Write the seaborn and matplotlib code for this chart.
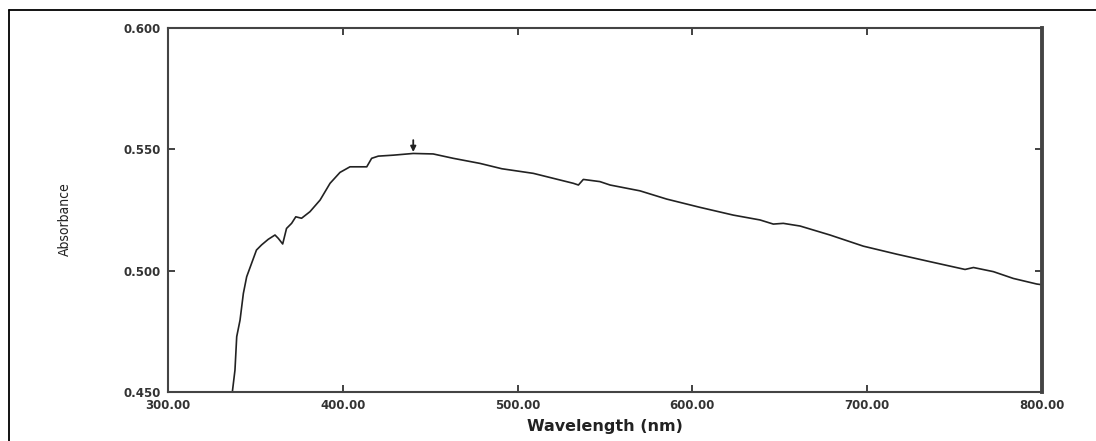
import pandas as pd
import matplotlib.pyplot as plt
import seaborn as sns
from matplotlib.lines import Line2D

# UV-Vis 흡광 스펙트럼
wavelength = [336.8, 338.3, 339.3, 341.2, 343.1, 345.0, 347.8, 350.6, 353.5, 357.3,
              361.2, 363.1, 365.6, 367.8, 370.7, 373.1, 376.4, 381.2, 387.0, 392.7,
              398.4, 404.1, 413.7, 416.5, 420.3, 428.9, 440.3, 451.7, 463.2, 478.5,
              491.0, 509.0, 531.9, 534.8, 537.6, 547.1, 552.9, 570.0, 585.3, 604.3,
              623.4, 638.7, 646.3, 652.0, 661.6, 678.7, 697.8, 716.9, 736.0, 756.0,
              760.8, 772.2, 783.6, 797.0, 800.0]
absorbance = [0.4500, 0.4590, 0.4728, 0.4796, 0.4906, 0.4975, 0.5030, 0.5085, 0.5106, 0.5129,
              0.5147, 0.5133, 0.5110, 0.5174, 0.5195, 0.5222, 0.5216, 0.5243, 0.5291, 0.5360,
              0.5405, 0.5428, 0.5428, 0.5463, 0.5472, 0.5476, 0.5483, 0.5481, 0.5463, 0.5442,
              0.5420, 0.5401, 0.5360, 0.5353, 0.5376, 0.5367, 0.5353, 0.5329, 0.5295, 0.5261,
              0.5229, 0.5209, 0.5192, 0.5195, 0.5184, 0.5147, 0.5101, 0.5068, 0.5037, 0.5005,
              0.5013, 0.4996, 0.4968, 0.4945, 0.4942]
peak_nm = 440.3
x_ticks = [300, 400, 500, 600, 700, 800]
y_ticks = [0.450, 0.500, 0.550, 0.600]

df = pd.DataFrame({'Wavelength': wavelength, 'Absorbance': absorbance})

sns.set_style('white')
fig = plt.figure(figsize=(10.96, 4.41), dpi=100)
ax = fig.add_axes([0.1533, 0.1111, 0.7974, 0.8254])

sns.lineplot(data=df, x='Wavelength', y='Absorbance', color='#222222', linewidth=1.2, ax=ax)

# 피크 표시 화살표
ax.annotate('', xy=(peak_nm, 0.5489), xytext=(peak_nm, 0.5538),
            arrowprops=dict(arrowstyle='-|>', color='#222222', lw=1.3, mutation_scale=8,
                            shrinkA=0, shrinkB=0))

ax.set_xlim(300, 800)
ax.set_ylim(0.450, 0.600)
ax.set_xticks(x_ticks)
ax.set_yticks(y_ticks)
ax.set_xticklabels(['%.2f' % v for v in x_ticks], fontsize=8.5, fontweight='bold', color='#333333')
ax.set_yticklabels(['%.3f' % v for v in y_ticks], fontsize=8.5, fontweight='bold', color='#333333')
ax.tick_params(direction='in', length=5, width=1.3, color='#333333',
               top=True, right=True, bottom=True, left=True, pad=5)

for side in ['left', 'bottom', 'top']:
    ax.spines[side].set_linewidth(1.5)
    ax.spines[side].set_color('#444444')
ax.spines['right'].set_linewidth(2.8)
ax.spines['right'].set_color('#444444')

ax.set_xlabel('Wavelength (nm)', fontsize=11.5, fontweight='bold', color='#222222', labelpad=5)
ax.set_ylabel('Absorbance', fontsize=10, color='#222222',
              family=['Liberation Sans Narrow', 'DejaVu Sans'], fontstretch='condensed')
ax.yaxis.set_label_coords(-0.11, 0.475)

# 바깥 테두리 (위, 왼쪽)
fig.add_artist(Line2D([0.0082, 0.0082], [0, 0.978], transform=fig.transFigure, color='black', lw=1.3))
fig.add_artist(Line2D([0.0082, 1.0], [0.978, 0.978], transform=fig.transFigure, color='black', lw=1.3))

fig.savefig('out.png', dpi=100)
